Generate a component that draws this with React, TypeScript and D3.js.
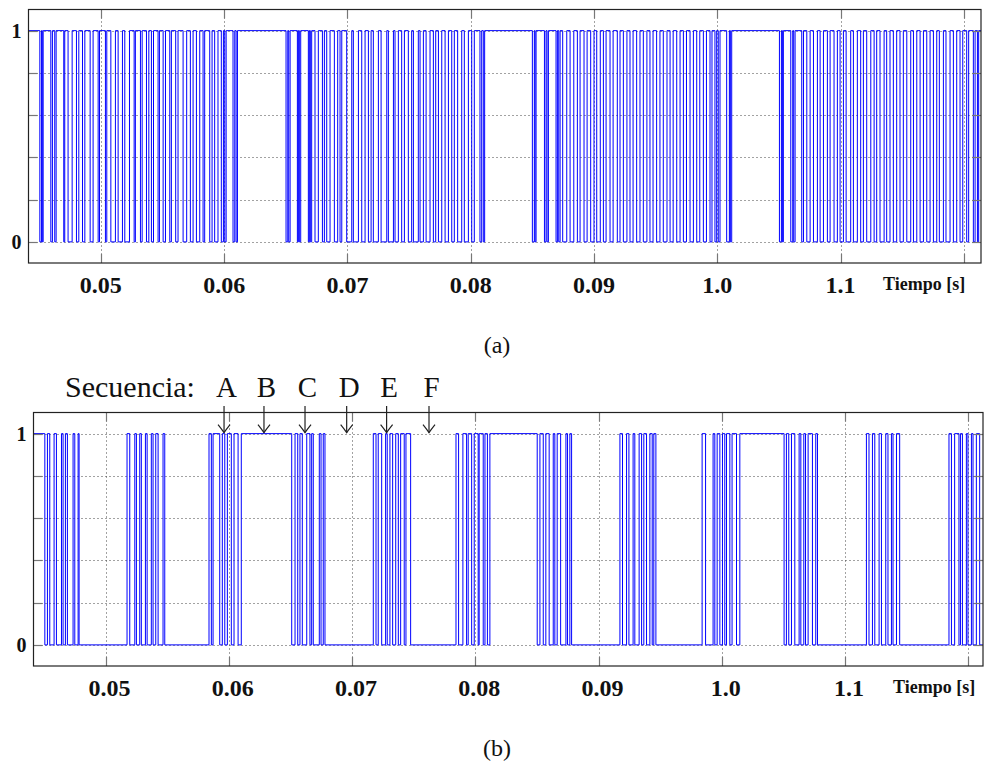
import React from "react";
import * as d3 from "d3";

// ---------- data (time in ms; axis labelled in seconds) ----------
const xTickValues = [50, 60, 70, 80, 90, 100, 110, 120];
const xTickLabels = ["0.05", "0.06", "0.07", "0.08", "0.09", "1.0", "1.1", ""];
const yGridValues = [0, 0.2, 0.4, 0.6, 0.8, 1];
const yTickLabels = ["0", "", "", "", "", "1"];

// panel (a): intervals [start, end] where the signal is 0 (otherwise 1)
const lowPulsesA: [number, number][] = [
  [45.05, 45.18], [45.25, 45.32], [45.94, 46.07], [46.26, 46.37], [46.99, 47.07], [47.34, 47.67], [48.02, 48.21], [48.51, 48.7], [49.13, 49.37], [49.78, 49.89], [50.37, 50.48], [50.81, 51.18], [51.4, 51.75], [51.94, 52.32], [52.7, 52.8], [53.21, 53.35], [53.7, 53.89], [54.1, 54.27], [54.64, 54.75], [55.05, 55.24], [55.59, 55.72], [56.07, 56.26], [56.67, 56.96], [57.26, 57.48], [57.75, 58.02], [58.29, 58.42], [58.83, 59.02], [59.23, 59.5], [59.77, 59.94], [60.05, 60.16], [60.72, 60.86], [60.97, 61.08],
  [65.02, 65.16], [65.24, 65.35], [65.94, 66.02], [66.1, 66.21], [66.83, 66.91], [66.99, 67.1], [67.37, 67.64], [67.97, 68.13], [68.32, 68.59], [68.94, 69.21], [69.4, 69.54], [69.94, 70.35], [70.48, 70.89], [71.16, 71.43], [71.7, 71.92], [72.1, 72.51], [72.73, 73.19], [73.32, 73.73], [73.86, 74.13], [74.4, 74.62], [74.94, 75.21], [75.35, 75.75], [75.89, 76.16], [76.38, 76.7], [76.97, 77.16], [77.38, 77.65], [77.92, 78.19], [78.46, 78.67], [78.94, 79.27], [79.48, 79.81], [80.08, 80.29], [80.75, 80.89], [81.02, 81.13],
  [85.0, 85.16], [85.22, 85.3], [85.98, 86.11], [86.19, 86.3], [86.92, 87.03], [87.14, 87.25], [87.46, 87.79], [88.06, 88.36], [88.65, 88.87], [89.19, 89.44], [89.73, 90.0], [90.22, 90.51], [90.76, 90.98], [91.3, 91.55], [91.89, 92.11], [92.38, 92.67], [92.92, 93.17], [93.46, 93.73], [94.0, 94.29], [94.54, 94.79], [95.08, 95.35], [95.62, 95.92], [96.17, 96.42], [96.71, 96.98], [97.25, 97.5], [97.79, 98.06], [98.33, 98.58], [98.87, 99.12], [99.41, 99.57], [99.81, 99.95], [100.08, 100.22], [100.76, 100.98], [101.06, 101.17],
  [105.04, 105.2], [105.28, 105.36], [105.96, 106.12], [106.2, 106.31], [106.85, 106.99], [107.26, 107.53], [107.8, 108.12], [108.34, 108.61], [108.93, 109.15], [109.47, 109.74], [109.96, 110.23], [110.45, 110.82], [111.04, 111.36], [111.63, 111.85], [112.12, 112.45], [112.72, 112.93], [113.2, 113.53], [113.74, 114.01], [114.28, 114.55], [114.82, 115.09], [115.37, 115.69], [115.91, 116.18], [116.45, 116.72], [116.99, 117.26], [117.53, 117.8], [118.01, 118.34], [118.55, 118.88], [119.15, 119.42], [119.69, 119.91], [120.23, 120.39], [120.77, 120.91], [121.1, 121.2],
];

// panel (b): switching instants (level toggles at each), starting at 1
const initialLevelB = 1;
const togglesB: number[] = [
  45.07, 45.28, 45.47, 45.82, 46.01, 46.42, 46.55, 46.74, 46.9, 47.36, 47.5, 47.77, 47.85,
  51.74, 51.96, 52.37, 52.5, 52.77, 52.9, 53.23, 53.37, 53.71, 53.85, 54.07, 54.26, 54.66, 54.8,
  58.39, 58.58, 58.72, 59.26, 59.47, 59.67, 59.88, 60.2, 60.42, 60.75, 61.01,
  65.1, 65.37, 65.59, 65.77, 65.96, 66.32, 66.58, 66.72, 66.85, 67.34, 67.48, 67.66, 67.8,
  71.72, 71.94, 72.12, 72.4, 72.72, 72.85, 73.07, 73.29, 73.54, 73.75, 73.94, 74.23, 74.37, 74.75,
  78.43, 78.64, 78.99, 79.29, 79.42, 79.7, 79.91, 80.23, 80.31, 80.64, 80.78, 80.98, 81.18,
  85.02, 85.24, 85.51, 85.72, 85.99, 86.32, 86.45, 86.64, 86.92, 87.35, 87.48, 87.67, 87.81,
  91.73, 91.94, 92.27, 92.46, 92.8, 92.94, 93.29, 93.49, 93.67, 93.89, 94.16, 94.35, 94.48, 94.65,
  98.4, 98.68, 99.29, 99.43, 99.62, 99.84, 100.05, 100.24, 100.38, 100.65, 100.83, 101.19, 101.46,
  105.05, 105.24, 105.43, 105.65, 105.92, 106.27, 106.41, 106.65, 106.79, 107.0, 107.35, 107.62, 107.76,
  111.73, 111.94, 112.22, 112.41, 112.76, 112.95, 113.3, 113.48, 113.76, 113.89, 114.17, 114.43,
  118.43, 118.63, 118.89, 119.24, 119.36, 119.52, 119.84, 119.97, 120.25, 120.38, 120.65, 120.92,
];

const seqLabels = ["A", "B", "C", "D", "E", "F"];
const seqTimes = [59.61, 62.85, 66.18, 69.56, 72.8, 76.24];

// ---------- layout ----------
const W = 984;
const H = 767;
const BLUE = "#0000ff";
const SERIF = "'Liberation Serif', 'Times New Roman', serif";

type PanelCfg = {
  x0: number; x1: number; y0: number; y1: number; domain: [number, number];
};
const panelA: PanelCfg = { x0: 28.5, x1: 981, y0: 9.5, y1: 263, domain: [44.13, 121.39] };
const panelB: PanelCfg = { x0: 33.5, x1: 983, y0: 412.5, y1: 666, domain: [44.15, 121.19] };

function makeScales(p: PanelCfg) {
  const x = d3.scaleLinear().domain(p.domain).range([p.x0, p.x1]);
  const y = d3.scaleLinear().domain([-0.1, 1.1]).range([p.y1, p.y0]);
  return { x, y };
}

function pathFromLows(lows: [number, number][], x: any, y: any, dom: [number, number]) {
  const p = d3.path();
  p.moveTo(x(dom[0]), y(1));
  for (const [s, e] of lows) {
    p.lineTo(x(s), y(1));
    p.lineTo(x(s), y(0));
    p.lineTo(x(e), y(0));
    p.lineTo(x(e), y(1));
  }
  p.lineTo(x(dom[1]), y(1));
  return p.toString();
}

function pathFromToggles(toggles: number[], init: number, x: any, y: any, dom: [number, number]) {
  const p = d3.path();
  let lvl = init;
  p.moveTo(x(dom[0]), y(lvl));
  for (const t of toggles) {
    p.lineTo(x(t), y(lvl));
    lvl = 1 - lvl;
    p.lineTo(x(t), y(lvl));
  }
  p.lineTo(x(dom[1]), y(lvl));
  return p.toString();
}

function Panel({ cfg, id, signal, labelDx, tiempoX }: { cfg: PanelCfg; id: string; signal: string; labelDx: number; tiempoX: number }) {
  const { x, y } = makeScales(cfg);
  const ticksInDomain = xTickValues.filter((v) => v >= cfg.domain[0] && v <= cfg.domain[1]);
  const tickLen = 9;
  return (
    <g>
      <defs>
        <clipPath id={id}>
          <rect x={cfg.x0} y={cfg.y0} width={cfg.x1 - cfg.x0} height={cfg.y1 - cfg.y0} />
        </clipPath>
      </defs>
      {/* grid */}
      <g stroke="#444" strokeWidth={1} strokeDasharray="1,3" fill="none">
        {yGridValues.map((v) => (
          <line key={"gy" + v} x1={cfg.x0} x2={cfg.x1} y1={Math.round(y(v)) + 0.5} y2={Math.round(y(v)) + 0.5} />
        ))}
        {ticksInDomain.map((v) => (
          <line key={"gx" + v} x1={Math.round(x(v)) + 0.5} x2={Math.round(x(v)) + 0.5} y1={cfg.y0} y2={cfg.y1} />
        ))}
      </g>
      {/* signal */}
      <path d={signal} stroke={BLUE} strokeWidth={1} fill="none" clipPath={`url(#${id})`} />
      {/* ticks */}
      <g stroke="#777" strokeWidth={1.2}>
        {ticksInDomain.map((v) => (
          <g key={"tx" + v}>
            <line x1={Math.round(x(v)) + 0.5} x2={Math.round(x(v)) + 0.5} y1={cfg.y1} y2={cfg.y1 - tickLen} />
            <line x1={Math.round(x(v)) + 0.5} x2={Math.round(x(v)) + 0.5} y1={cfg.y0} y2={cfg.y0 + tickLen} />
          </g>
        ))}
        {yGridValues.map((v) => (
          <g key={"ty" + v}>
            <line x1={cfg.x0} x2={cfg.x0 + tickLen} y1={Math.round(y(v)) + 0.5} y2={Math.round(y(v)) + 0.5} />
            <line x1={cfg.x1} x2={cfg.x1 - tickLen} y1={Math.round(y(v)) + 0.5} y2={Math.round(y(v)) + 0.5} />
          </g>
        ))}
      </g>
      {/* frame */}
      <rect x={cfg.x0} y={cfg.y0} width={cfg.x1 - cfg.x0} height={cfg.y1 - cfg.y0} fill="none" stroke="#222" strokeWidth={1.2} />
      {/* x labels */}
      {xTickValues.map((v, i) =>
        xTickLabels[i] ? (
          <text key={"lx" + v} x={x(v) + labelDx} y={cfg.y1 + 30} textAnchor="middle" fontFamily={SERIF} fontWeight="bold" fontSize={24} fill="#111">
            {xTickLabels[i]}
          </text>
        ) : null
      )}
      <text x={tiempoX} y={cfg.y1 + 27} fontFamily={SERIF} fontWeight="bold" fontSize={18} fill="#111">
        Tiempo [s]
      </text>
      {/* y labels */}
      {yGridValues.map((v, i) =>
        yTickLabels[i] ? (
          <text key={"ly" + v} x={cfg.x0 - 12} y={y(v) + 7} textAnchor="middle" fontFamily={SERIF} fontWeight="bold" fontSize={20} fill="#111">
            {yTickLabels[i]}
          </text>
        ) : null
      )}
    </g>
  );
}

export default function App() {
  const sa = makeScales(panelA);
  const sb = makeScales(panelB);
  const sigA = pathFromLows(lowPulsesA, sa.x, sa.y, panelA.domain);
  const sigB = pathFromToggles(togglesB, initialLevelB, sb.x, sb.y, panelB.domain);
  return (
    <svg width={W} height={H} style={{ position: "absolute", left: 0, top: 0, background: "#fff" }}>
      <rect x={0} y={0} width={W} height={H} fill="#fff" />
      <Panel cfg={panelA} id="clipA" signal={sigA} labelDx={0} tiempoX={883} />
      <Panel cfg={panelB} id="clipB" signal={sigB} labelDx={4} tiempoX={893} />
      <text x={497} y={353} textAnchor="middle" fontFamily={SERIF} fontSize={24} fill="#111">(a)</text>
      <text x={497} y={756} textAnchor="middle" fontFamily={SERIF} fontSize={24} fill="#111">(b)</text>
      {/* sequence annotation */}
      <text x={65} y={397} fontFamily={SERIF} fontSize={30} fill="#111">Secuencia:</text>
      {seqLabels.map((l, i) => {
        const ax = sb.x(seqTimes[i]);
        const tipY = sb.y(1) - 1;
        return (
          <g key={l}>
            <text x={ax + 2.5} y={397} textAnchor="middle" fontFamily={SERIF} fontSize={29} fill="#111">{l}</text>
            <line x1={ax} x2={ax} y1={406} y2={tipY} stroke="#222" strokeWidth={1.2} />
            <path d={`M${ax - 6},${tipY - 8} Q${ax - 2},${tipY - 3} ${ax},${tipY} Q${ax + 2},${tipY - 3} ${ax + 6},${tipY - 8}`} stroke="#222" strokeWidth={1.2} fill="none" />
          </g>
        );
      })}
    </svg>
  );
}
